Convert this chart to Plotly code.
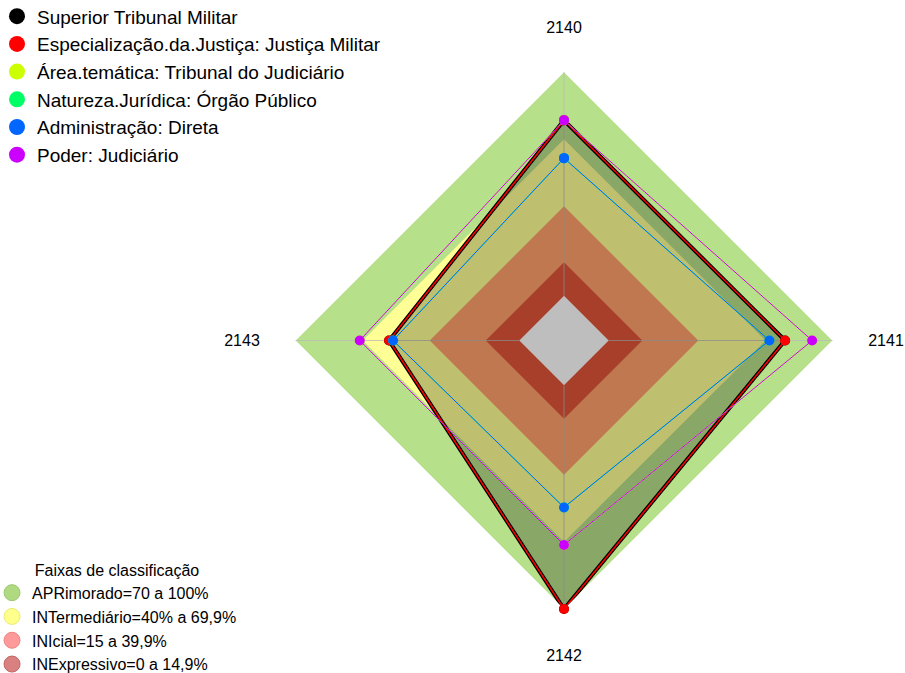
import plotly.graph_objects as go

# ---------------- data ----------------
categories = ["2140", "2141", "2142", "2143"]

series_names = [
    "Superior Tribunal Militar",
    "Especialização.da.Justiça: Justiça Militar",
    "Área.temática: Tribunal do Judiciário",
    "Natureza.Jurídica: Órgão Público",
    "Administração: Direta",
    "Poder: Judiciário",
]
superior_tribunal = [78.4, 78.8, 100.0, 58.2]
especializacao = [78.4, 78.8, 100.0, 58.2]
area_tematica = [78.4, 90.9, 71.4, 71.3]
natureza_juridica = [61.5, 71.8, 54.6, 56.4]
administracao = [61.5, 71.8, 54.6, 56.4]
poder = [78.4, 90.9, 71.4, 71.3]

band_names = [
    "APRimorado=70 a 100%",
    "INTermediário=40% a 69,9%",
    "INIcial=15 a 39,9%",
    "INExpressivo=0 a 14,9%",
]
band_upper = [100, 70, 40, 15]
band_floor = 0
legend_title = "Faixas de classificação"

# ---------------- styles ----------------
series_colors = ["#000000", "#FF0000", "#CCFF00", "#00FF66", "#0066FF", "#CC00FF"]
series_widths = [4, 1.5, 1, 1, 1, 1]
band_fill = ["rgb(183,224,138)", "rgb(255,255,150)", "rgb(255,160,107)", "rgb(224,85,56)"]
band_marker = ["#b0da82", "#ffff8c", "#ff9a9a", "#d98080"]
band_marker_line = ["#9cc86c", "#eaea74", "#ec8484", "#c46464"]
center_fill = "rgb(190,190,190)"
FONT = "Liberation Sans, Arial, sans-serif"

def closed(vals):
    return list(vals) + [vals[0]]

theta_c = closed(categories)

fig = go.Figure()

# classification bands (lower polar)
for name, up, col in zip(band_names, band_upper, band_fill):
    fig.add_trace(go.Scatterpolar(
        r=closed([up] * len(categories)), theta=theta_c, mode="none",
        fill="toself", fillcolor=col, showlegend=False, hoverinfo="skip",
        subplot="polar"))
fig.add_trace(go.Scatterpolar(
    r=closed([band_floor] * len(categories)), theta=theta_c, mode="none",
    fill="toself", fillcolor=center_fill, showlegend=False, hoverinfo="skip",
    subplot="polar"))

# series (upper polar)
all_series = [superior_tribunal, especializacao, area_tematica,
              natureza_juridica, administracao, poder]
for i, (name, vals, col, w) in enumerate(zip(series_names, all_series,
                                              series_colors, series_widths)):
    fig.add_trace(go.Scatterpolar(
        r=closed(vals), theta=theta_c, mode="lines+markers", name=name,
        line=dict(color=col, width=w), marker=dict(color=col, size=10),
        fill="toself" if i == 0 else "none",
        fillcolor="rgba(0,0,0,0.25)" if i == 0 else None,
        showlegend=False, subplot="polar2"))

# legend entries
for name, col in zip(series_names, series_colors):
    fig.add_trace(go.Scatterpolar(
        r=[None], theta=[None], mode="markers", name=name,
        marker=dict(color=col, size=16), legend="legend", subplot="polar2"))
for name, col, lc in zip(band_names, band_marker, band_marker_line):
    fig.add_trace(go.Scatterpolar(
        r=[None], theta=[None], mode="markers", name=name,
        marker=dict(color=col, size=16, line=dict(color=lc, width=1)),
        legend="legend2", subplot="polar2"))

common_ang = dict(type="category", categoryarray=categories,
                  direction="clockwise", rotation=90)

fig.update_layout(
    width=905, height=673,
    margin=dict(l=233, r=10, t=72, b=64, autoexpand=False),
    paper_bgcolor="white", plot_bgcolor="white",
    font=dict(family=FONT, color="#000000"),
    polar=dict(
        domain=dict(x=[0, 1], y=[0, 1]),
        bgcolor="white", gridshape="linear",
        radialaxis=dict(range=[-20, 100], visible=False),
        angularaxis=dict(**common_ang, showgrid=False, showline=False,
                         showticklabels=False, ticks=""),
    ),
    polar2=dict(
        domain=dict(x=[0, 1], y=[0, 1]),
        bgcolor="rgba(0,0,0,0)", gridshape="linear",
        hole=1 / 6,
        radialaxis=dict(range=[0, 100], visible=False),
        angularaxis=dict(**common_ang, showgrid=True,
                         gridcolor="rgba(185,185,185,0.75)", gridwidth=1,
                         showline=False, ticks="outside", ticklen=32,
                         tickcolor="rgba(0,0,0,0)",
                         tickfont=dict(family=FONT, size=16, color="#000000")),
    ),
    legend=dict(
        x=-0.3565, y=1.139, xref="paper", yref="paper",
        xanchor="left", yanchor="top", bgcolor="rgba(0,0,0,0)",
        font=dict(family=FONT, size=19, color="#000000"),
        itemsizing="trace",
    ),
    legend2=dict(
        x=-0.364, y=-0.134, xref="paper", yref="paper",
        xanchor="left", yanchor="bottom", bgcolor="rgba(0,0,0,0)",
        font=dict(family=FONT, size=16, color="#000000"),
        title=dict(text=legend_title, side="top center",
                   font=dict(family=FONT, size=16, color="#000000")),
        itemsizing="trace",
    ),
)

fig.write_html("out.html",
               config={"displayModeBar": False},
               post_script="document.body.style.margin='0';"
                           "document.body.style.overflow='hidden';")
